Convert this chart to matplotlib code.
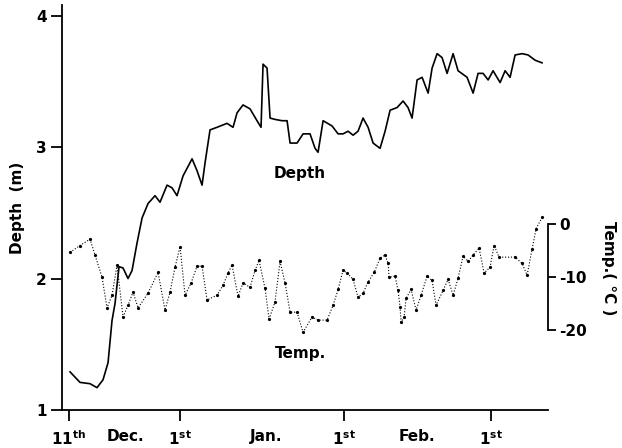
import matplotlib
matplotlib.use("Agg")
import matplotlib.pyplot as plt

# Days counted from Dec 11th (day 0)
depth_days = [0.19, 2.08, 3.98, 5.3, 6.44, 7.39, 8.14, 8.71, 9.47, 10.23, 11.17, 11.93,
              12.88, 13.83, 14.96, 16.29, 17.23, 18.56, 19.5, 20.45, 21.59, 23.3, 24.24,
              25.19, 25.76, 26.7, 28.03, 29.92, 31.06, 31.82, 32.95, 34.28, 35.6, 36.36,
              36.74, 37.5, 38.07, 39.0, 40.34, 41.29, 41.86, 43.18, 44.32, 45.64, 46.59,
              47.16, 48.11, 49.81, 50.95, 51.89, 52.84, 53.79, 54.73, 55.68, 56.63, 57.58,
              58.9, 59.85, 60.8, 62.12, 63.26, 64.2, 64.96, 65.91, 66.86, 68.0, 68.75,
              69.7, 70.64, 71.59, 72.73, 73.67, 75.38, 76.52, 77.46, 78.41, 79.36, 80.3,
              81.63, 82.58, 83.52, 84.47, 85.8, 86.93, 88.26, 89.58]
depth_m = [1.29, 1.21, 1.20, 1.17, 1.23, 1.36, 1.68, 1.81, 2.09, 2.08, 2.00, 2.06,
           2.27, 2.46, 2.57, 2.63, 2.58, 2.71, 2.69, 2.63, 2.78, 2.91, 2.82,
           2.71, 2.88, 3.13, 3.15, 3.18, 3.15, 3.26, 3.32, 3.29, 3.20, 3.15,
           3.63, 3.60, 3.22, 3.21, 3.20, 3.20, 3.03, 3.03, 3.10, 3.10, 2.99,
           2.96, 3.20, 3.16, 3.10, 3.10, 3.12, 3.09, 3.12, 3.22, 3.15, 3.03,
           2.99, 3.12, 3.28, 3.30, 3.35, 3.30, 3.22, 3.51, 3.53, 3.41, 3.60,
           3.71, 3.68, 3.56, 3.71, 3.58, 3.53, 3.41, 3.56, 3.56, 3.51, 3.58,
           3.49, 3.58, 3.53, 3.70, 3.71, 3.70, 3.66, 3.64]

temp_days = [0.19, 2.08, 3.98, 4.92, 6.25, 7.2, 8.14, 9.09, 10.23, 11.17, 12.12, 13.07,
             14.96, 16.86, 18.18, 19.13, 20.08, 21.02, 21.97, 23.11, 24.24, 25.19, 26.14,
             28.03, 29.17, 30.11, 30.87, 32.0, 32.95, 34.28, 35.23, 35.98, 37.12, 37.88,
             39.0, 39.96, 40.91, 41.86, 43.18, 44.32, 46.02, 47.16, 48.86, 50.0, 50.95,
             51.89, 52.65, 53.79, 54.73, 55.68, 56.63, 57.77, 58.9, 59.85, 60.42, 60.61,
             61.74, 62.31, 62.69, 62.88, 63.45, 63.83, 64.77, 65.72, 66.67, 67.8, 68.75,
             69.5, 70.83, 71.78, 72.73, 73.67, 74.62, 75.57, 76.52, 77.65, 78.6, 79.73,
             80.49, 81.44, 84.47, 85.8, 86.74, 87.69, 88.45, 89.58]
temp_c = [-5.3, -4.0, -2.8, -5.8, -10.0, -15.8, -13.4, -7.7, -17.5, -15.3, -12.8, -15.8,
          -13.0, -9.1, -16.2, -12.8, -8.1, -4.2, -13.4, -11.1, -7.9, -7.9, -14.3,
          -13.4, -11.5, -9.2, -7.7, -13.6, -11.1, -11.9, -8.7, -6.8, -12.1, -17.9,
          -14.7, -7.0, -11.1, -16.6, -16.6, -20.4, -17.5, -18.1, -18.1, -15.3, -12.3,
          -8.7, -9.2, -10.4, -13.8, -13.0, -10.9, -9.1, -6.4, -5.8, -7.4, -10.0,
          -9.8, -12.5, -15.7, -18.5, -17.5, -14.0, -12.3, -16.2, -13.4, -9.8, -10.6,
          -15.3, -12.5, -10.4, -13.4, -10.2, -6.0, -7.0, -5.8, -4.5, -9.2, -8.1,
          -4.0, -6.2, -6.2, -7.4, -9.6, -4.7, -0.8, 1.3]

depth_ticks = [1, 2, 3, 4]
temp_ticks = [0, -10, -20]
major_days = [0, 21, 52, 80]
major_labels = [r'11$^{\rm th}$', r'1$^{\rm st}$', r'1$^{\rm st}$', r'1$^{\rm st}$']
month_days = [10.6, 37.3, 65.9]
month_labels = ['Dec.', 'Jan.', 'Feb.']

plt.rcParams['font.family'] = ['DejaVu Sans']
plt.rcParams['font.weight'] = 'bold'
plt.rcParams['mathtext.default'] = 'regular'
plt.rcParams['mathtext.fontset'] = 'dejavusans'

fig = plt.figure(figsize=(6.22, 4.48), dpi=100)
ax = fig.add_axes([62/622, 38/448, (548-62)/622, (443-38)/448])

ax.plot(depth_days, depth_m, color='black', lw=1.2, solid_joinstyle='round')
ax.set_xlim(-1.33, 90.7)
ax.set_ylim(1.0, 4.08)

for s in ['top', 'right']:
    ax.spines[s].set_visible(False)
ax.spines['left'].set_linewidth(1.3)
ax.spines['bottom'].set_linewidth(1.3)

ax.set_yticks(depth_ticks)
ax.set_yticklabels([str(t) for t in depth_ticks])
ax.tick_params(axis='y', direction='out', length=8, width=1.3, labelsize=11, pad=3)
ax.set_xticks(major_days)
ax.set_xticklabels(major_labels)
ax.set_xticks(month_days, minor=True)
ax.set_xticklabels(month_labels, minor=True)
ax.tick_params(axis='x', which='major', direction='out', length=8, width=1.3,
               labelsize=11, pad=6)
ax.tick_params(axis='x', which='minor', length=0, labelsize=11, pad=14)
ax.set_ylabel('Depth  (m)', fontsize=11, fontweight='bold', labelpad=8)

# temperature axis: 0 C at depth 2.412, -20 C at depth 1.607
k = (2.412 - 1.607) / 20.0
tlo = (1.0 - 2.412) / k
thi = (4.08 - 2.412) / k
ax2 = ax.twinx()
ax2.set_ylim(tlo, thi)
ax2.plot(temp_days, temp_c, color='black', ls=':', lw=0.8, marker='.', ms=2.6)
for s in ['top', 'left', 'bottom']:
    ax2.spines[s].set_visible(False)
ax2.spines['right'].set_bounds(-20, 0)
ax2.spines['right'].set_linewidth(1.3)
ax2.set_yticks(temp_ticks)
ax2.set_yticklabels([str(t) for t in temp_ticks])
ax2.tick_params(axis='y', direction='out', length=6, width=1.3, labelsize=11, pad=2)
ax2.set_ylabel('Temp.( °C )', fontsize=11, fontweight='bold', rotation=270,
               va='center')
ax2.yaxis.set_label_coords(1.125, 0.35)

ax.text(43.75, 2.80, 'Depth', fontsize=11, fontweight='bold', ha='center', va='center')
ax.text(43.75, 1.43, 'Temp.', fontsize=11, fontweight='bold', ha='center', va='center')

fig.savefig('out.png', dpi=100)
